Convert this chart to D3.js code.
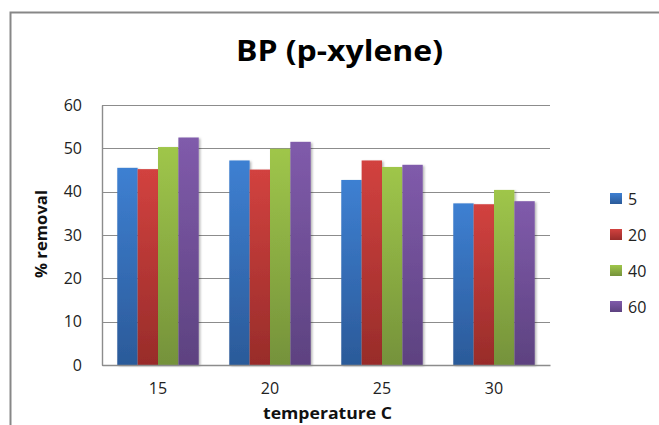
<!DOCTYPE html>
<html>
<head>
<meta charset="utf-8">
<script src="https://cdn.jsdelivr.net/npm/d3@7"></script>
<style>
  body { margin: 0; background: #fff; }
  svg { display: block; }
</style>
</head>
<body>
<svg id="chart" width="659" height="425"></svg>
<script>
// Temperature categories on the x axis
const categories = ["15", "20", "25", "30"];
// Series (legend entries)
const seriesNames = ["5", "20", "40", "60"];
// % removal per series, one value per temperature
const values5  = [45.5, 47.2, 42.7, 37.3];
const values20 = [45.2, 45.1, 47.2, 37.1];
const values40 = [50.3, 49.9, 45.7, 40.4];
const values60 = [52.5, 51.5, 46.2, 37.8];
const yTicks = [0, 10, 20, 30, 40, 50, 60];

const seriesValues = [values5, values20, values40, values60];
const colorTop    = ["#3e80d2", "#d2423f", "#9fc64a", "#805bab"];
const colorBottom = ["#2b5a99", "#982c2a", "#75923b", "#5d4280"];

const svg = d3.select("#chart");
const font = "'Open Sans', 'DejaVu Sans', sans-serif";

const plot = { left: 102, right: 550, top: 105, bottom: 365 };

const x = d3.scaleBand()
  .domain(categories)
  .range([plot.left, plot.right])
  .paddingInner(1.5 / 5.5)
  .paddingOuter(0.75 / 5.5);

const xs = d3.scaleBand()
  .domain(seriesNames)
  .range([0, x.bandwidth()])
  .padding(0);

const y = d3.scaleLinear().domain([0, 60]).range([plot.bottom, plot.top]);

// gradients + shadow
const defs = svg.append("defs");
seriesNames.forEach((s, i) => {
  const g = defs.append("linearGradient")
    .attr("id", "grad" + i)
    .attr("x1", 0).attr("y1", 0).attr("x2", 0).attr("y2", 1);
  g.append("stop").attr("offset", "0%").attr("stop-color", colorTop[i]);
  g.append("stop").attr("offset", "100%").attr("stop-color", colorBottom[i]);
});
const shadow = defs.append("filter").attr("id", "shadow")
  .attr("x", "-20%").attr("y", "-5%").attr("width", "150%").attr("height", "115%");
shadow.append("feDropShadow")
  .attr("dx", 1.5).attr("dy", 1).attr("stdDeviation", 1.2)
  .attr("flood-color", "#000").attr("flood-opacity", 0.3);

// chart frame
svg.append("rect")
  .attr("x", 10.5).attr("y", 12.5)
  .attr("width", 700).attr("height", 500)
  .attr("fill", "none").attr("stroke", "#878787").attr("stroke-width", 2);

// title
svg.append("text")
  .attr("x", 339.5).attr("y", 61)
  .attr("text-anchor", "middle")
  .attr("font-family", font).attr("font-weight", "bold")
  .attr("font-size", 28)
  .attr("textLength", 207).attr("lengthAdjust", "spacingAndGlyphs")
  .attr("fill", "#000")
  .text("BP (p-xylene)");

// gridlines
svg.append("g")
  .selectAll("line")
  .data(yTicks)
  .join("line")
  .attr("x1", plot.left).attr("x2", plot.right)
  .attr("y1", d => Math.round(y(d)) + 0.5).attr("y2", d => Math.round(y(d)) + 0.5)
  .attr("stroke", "#8c8c8c").attr("stroke-width", 1.2);

// y axis
const yAxis = svg.append("g")
  .attr("transform", `translate(${plot.left},0)`)
  .call(d3.axisLeft(y).tickValues(yTicks).tickSize(0).tickPadding(20));
yAxis.select(".domain").attr("stroke", "#8c8c8c").attr("stroke-width", 1.4);
yAxis.selectAll("text")
  .attr("font-family", font).attr("font-size", 16).attr("fill", "#222");

// bars
const groups = svg.append("g")
  .selectAll("g")
  .data(categories)
  .join("g")
  .attr("transform", d => `translate(${x(d)},0)`);

groups.selectAll("rect")
  .data((c, ci) => seriesNames.map((s, si) => ({ s, si, v: seriesValues[si][ci] })))
  .join("rect")
  .attr("x", d => xs(d.s))
  .attr("width", xs.bandwidth())
  .attr("y", d => y(d.v))
  .attr("height", d => y(0) - y(d.v))
  .attr("fill", d => `url(#grad${d.si})`)
  .attr("filter", "url(#shadow)");

// x axis
const xAxis = svg.append("g")
  .attr("transform", `translate(0,${plot.bottom})`)
  .call(d3.axisBottom(x).tickSize(0).tickPadding(18));
xAxis.select(".domain").attr("stroke", "#8c8c8c").attr("stroke-width", 1.4);
xAxis.selectAll("text")
  .attr("font-family", font).attr("font-size", 16).attr("fill", "#222");

// axis titles
svg.append("text")
  .attr("transform", "translate(47,234) rotate(-90)")
  .attr("text-anchor", "middle")
  .attr("font-family", font).attr("font-weight", "bold").attr("font-size", 16)
  .attr("textLength", 88).attr("lengthAdjust", "spacingAndGlyphs")
  .attr("fill", "#111")
  .text("% removal");

svg.append("text")
  .attr("x", 327.5).attr("y", 419)
  .attr("text-anchor", "middle")
  .attr("font-family", font).attr("font-weight", "bold").attr("font-size", 16)
  .attr("textLength", 129).attr("lengthAdjust", "spacingAndGlyphs")
  .attr("fill", "#111")
  .text("temperature C");

// legend
const legend = svg.append("g")
  .selectAll("g")
  .data(seriesNames)
  .join("g")
  .attr("transform", (d, i) => `translate(610,${199 + i * 36})`);
legend.append("rect")
  .attr("x", 0).attr("y", -6)
  .attr("width", 12).attr("height", 11)
  .attr("fill", (d, i) => `url(#grad${i})`);
legend.append("text")
  .attr("x", 18).attr("y", 0)
  .attr("dy", "0.35em")
  .attr("font-family", font).attr("font-size", 16).attr("fill", "#222")
  .text(d => d);
</script>
</body>
</html>
